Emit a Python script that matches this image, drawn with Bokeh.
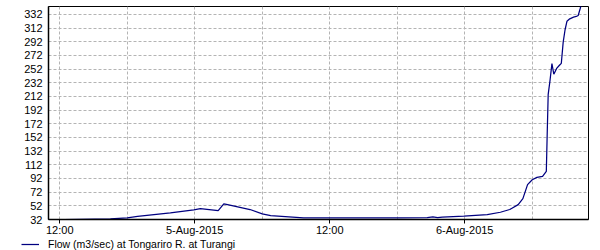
import pandas as pd
from bokeh.plotting import figure
from bokeh.layouts import column
from bokeh.models import (FixedTicker, CustomJSTickFormatter, Legend, LegendItem,
                          Range1d, ColumnDataSource)
from bokeh.embed import file_html
from bokeh.resources import INLINE

# ---- data ----
times = [
    "2015-08-04 11:00", "2015-08-04 16:30", "2015-08-04 18:00", "2015-08-04 18:55",
    "2015-08-04 21:50", "2015-08-04 23:55", "2015-08-05 00:30", "2015-08-05 02:05",
    "2015-08-05 02:35", "2015-08-05 02:55", "2015-08-05 04:55", "2015-08-05 06:00",
    "2015-08-05 06:45", "2015-08-05 09:40", "2015-08-05 18:15", "2015-08-05 20:40",
    "2015-08-05 21:10", "2015-08-05 21:35", "2015-08-05 22:00", "2015-08-05 23:55",
    "2015-08-06 02:00", "2015-08-06 03:10", "2015-08-06 04:00", "2015-08-06 04:45",
    "2015-08-06 05:10", "2015-08-06 05:35", "2015-08-06 06:00", "2015-08-06 06:25",
    "2015-08-06 06:55", "2015-08-06 07:15", "2015-08-06 07:20", "2015-08-06 07:25",
    "2015-08-06 07:35", "2015-08-06 07:45", "2015-08-06 07:55", "2015-08-06 08:10",
    "2015-08-06 08:25", "2015-08-06 08:35", "2015-08-06 08:45", "2015-08-06 08:55",
    "2015-08-06 09:05", "2015-08-06 09:20", "2015-08-06 09:40", "2015-08-06 09:55",
    "2015-08-06 10:05", "2015-08-06 10:15", "2015-08-06 10:25",
]
flow = [
    31.5, 33.0, 34.5, 36.4,
    41.8, 46.1, 48.0, 45.1,
    54.9, 53.8, 46.6, 40.3,
    37.8, 34.5, 34.5, 34.9,
    35.8, 34.6, 35.6, 36.8,
    39.3, 42.6, 46.6, 53.8,
    62.6, 83.0, 90.2, 93.6,
    95.0, 102.3, 160.0, 215.0,
    236.0, 260.0, 244.5, 253.0,
    257.6, 260.5, 291.5, 309.6,
    322.0, 325.6, 328.0, 329.0,
    330.4, 340.0, 350.0,
]
y_ticks = list(range(32, 333, 20))
x_major = ["2015-08-04 12:00", "2015-08-05 00:00", "2015-08-05 12:00", "2015-08-06 00:00"]
x_minor = ["2015-08-04 18:00", "2015-08-05 06:00", "2015-08-05 18:00", "2015-08-06 06:00"]
x_start, x_end = "2015-08-04 11:00", "2015-08-06 11:00"
y_start, y_end = 32, 343.6
series_name = "Flow (m3/sec) at Tongariro R. at Turangi"


def ms(s):
    return pd.Timestamp(s).value / 1e6


src = ColumnDataSource(dict(t=pd.to_datetime(times), flow=flow))

FONT = "Liberation Sans"
GRID = "#b4b4b4"
LINE = "#000080"

p = figure(width=600, height=238, x_axis_type="datetime",
           output_backend="svg", toolbar_location=None,
           x_range=Range1d(ms(x_start), ms(x_end)),
           y_range=Range1d(y_start, y_end),
           min_border_left=48, min_border_right=12,
           min_border_top=6, min_border_bottom=18)
p.background_fill_color = "white"
p.border_fill_color = "white"
p.outline_line_color = "black"
p.outline_line_width = 1

r = p.line("t", "flow", source=src, line_color=LINE, line_width=1.25)

# x axis
p.xaxis.ticker = FixedTicker(ticks=[ms(s) for s in x_major],
                             minor_ticks=[ms(s) for s in x_minor])
p.xaxis.formatter = CustomJSTickFormatter(code="""
const m = ['Jan','Feb','Mar','Apr','May','Jun','Jul','Aug','Sep','Oct','Nov','Dec'];
const d = new Date(tick);
const h = d.getUTCHours();
if (h === 0 && d.getUTCMinutes() === 0) {
  return d.getUTCDate() + '-' + m[d.getUTCMonth()] + '-' + d.getUTCFullYear();
}
return String(h).padStart(2, '0') + ':' + String(d.getUTCMinutes()).padStart(2, '0');
""")
p.xaxis.major_tick_out = 4
p.xaxis.major_tick_in = 0
p.xaxis.minor_tick_out = 0
p.xaxis.minor_tick_in = 0
p.xaxis.major_label_standoff = 0

# y axis
p.yaxis.ticker = FixedTicker(ticks=y_ticks)
p.yaxis.major_tick_out = 0
p.yaxis.major_tick_in = 0
p.yaxis.minor_tick_out = 0
p.yaxis.minor_tick_in = 0
p.yaxis.major_label_standoff = 6

for ax in (p.xaxis, p.yaxis):
    ax.axis_line_color = "black"
    ax.axis_line_width = 1.5
    ax.major_tick_line_color = "black"
    ax.major_label_text_font = FONT
    ax.major_label_text_font_size = "11px"
    ax.major_label_text_color = "black"

# grids
for g in (p.xgrid, p.ygrid):
    g.grid_line_color = GRID
    g.grid_line_dash = "3 2"
    g.grid_line_width = 1
p.xgrid.minor_grid_line_color = GRID
p.xgrid.minor_grid_line_dash = "3 2"

# ---- legend strip below the chart ----
leg = figure(width=600, height=12, output_backend="svg", toolbar_location=None,
             x_range=Range1d(0, 1), y_range=Range1d(10000, 10001),
             x_axis_location=None, y_axis_location=None,
             min_border=0, min_border_left=0, min_border_right=0,
             min_border_top=0, min_border_bottom=0)
if "frame_align" in leg.properties():
    leg.frame_align = False
    p.frame_align = False
leg.outline_line_color = None
leg.xgrid.visible = False
leg.ygrid.visible = False
leg.background_fill_color = "white"
leg.border_fill_color = "white"
lr = leg.line("t", "flow", source=src, line_color=LINE, line_width=1.25)

legend = Legend(items=[LegendItem(label=series_name, renderers=[lr])],
                location=(21, 0), orientation="horizontal",
                glyph_width=18, glyph_height=12, label_standoff=9,
                label_height=12,
                padding=0, margin=0, spacing=0,
                border_line_color=None, background_fill_alpha=0,
                label_text_font=FONT, label_text_font_size="10.5px",
                label_text_color="black")
leg.add_layout(legend)

layout = column(p, leg, spacing=0)
open("out.html", "w").write(file_html(layout, INLINE))
